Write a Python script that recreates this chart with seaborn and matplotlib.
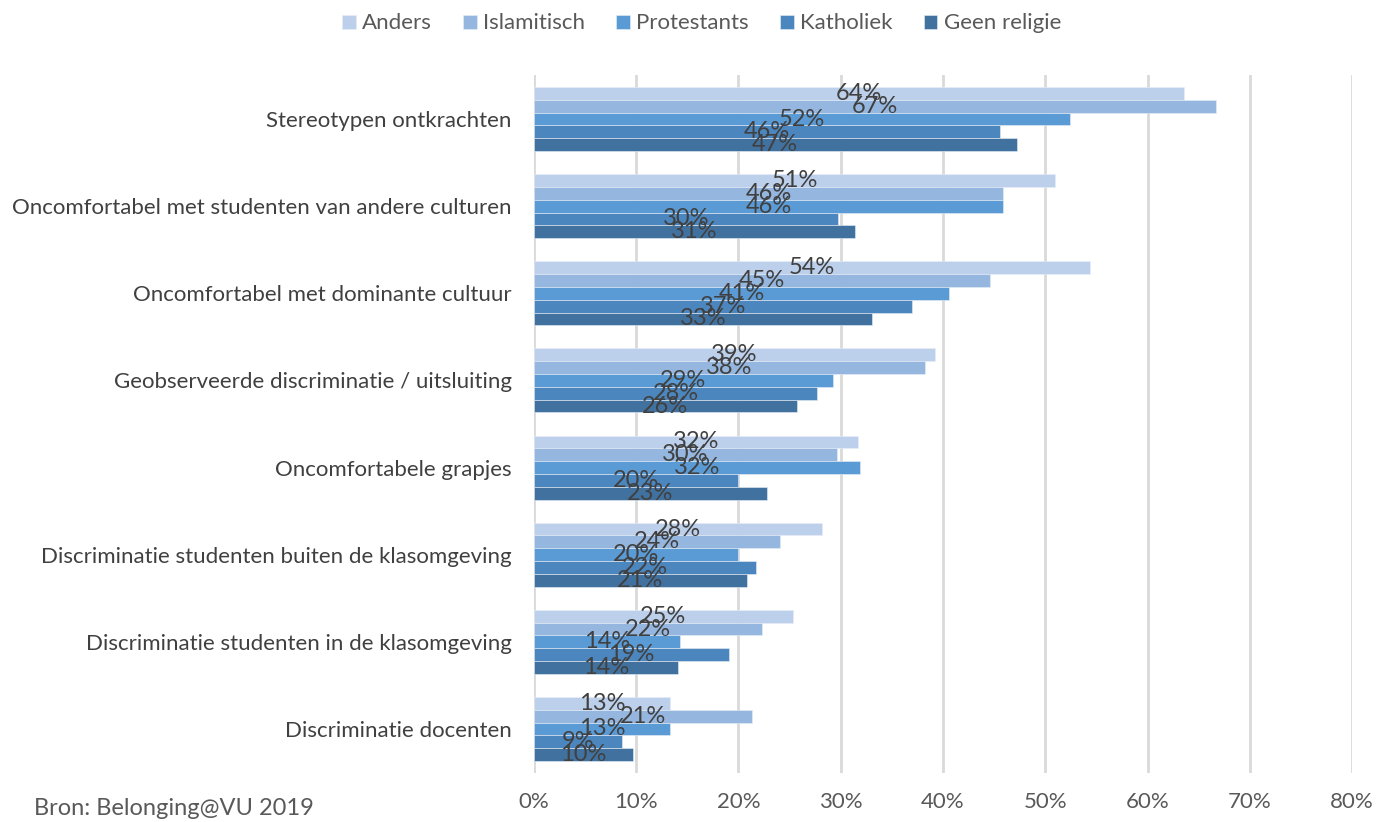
import numpy as np
import pandas as pd
import seaborn as sns
import matplotlib.pyplot as plt

categories = [
    "Stereotypen ontkrachten",
    "Oncomfortabel met studenten van andere culturen",
    "Oncomfortabel met dominante cultuur",
    "Geobserveerde discriminatie / uitsluiting",
    "Oncomfortabele grapjes",
    "Discriminatie studenten buiten de klasomgeving",
    "Discriminatie studenten in de klasomgeving",
    "Discriminatie docenten",
]
series = ["Anders", "Islamitisch", "Protestants", "Katholiek", "Geen religie"]

anders = [63.6, 51.0, 54.4, 39.2, 31.7, 28.2, 25.3, 13.3]
islamitisch = [66.7, 45.9, 44.6, 38.2, 29.6, 24.1, 22.3, 21.3]
protestants = [52.4, 45.9, 40.6, 29.2, 31.9, 20.0, 14.3, 13.3]
katholiek = [45.6, 29.7, 37.0, 27.7, 20.0, 21.7, 19.1, 8.6]
geen_religie = [47.2, 31.4, 33.1, 25.7, 22.8, 20.8, 14.1, 9.7]

colors = ["#BDD0EB", "#95B7DF", "#5B9BD5", "#4C86BE", "#41729F"]

values = [anders, islamitisch, protestants, katholiek, geen_religie]
df = pd.DataFrame(
    [(c, s, v) for s, vals in zip(series, values) for c, v in zip(categories, vals)],
    columns=["categorie", "religie", "pct"],
)

sns.set_style("white")
plt.rcParams["font.family"] = ["Lato", "DejaVu Sans"]

fig = plt.figure(figsize=(13.76, 8.22), dpi=100)
ax = fig.add_axes([0.388, 0.0602, 0.5946, 0.848])

sns.barplot(data=df, y="categorie", x="pct", hue="religie", order=categories,
            hue_order=series, palette=colors, orient="h", width=0.735,
            saturation=1, ax=ax, legend=True, errorbar=None,
            edgecolor="#E8EEF6", linewidth=0.4)

# labels centered in each bar, like the Excel original (they overlap there too)
for cont in ax.containers:
    labels = [f"{round(b.get_width()):.0f}%" for b in cont]
    ax.bar_label(cont, labels=labels, label_type="center", fontsize=17,
                 color="#404040")

ax.set_xlim(0, 80)
ax.set_xticks(np.arange(0, 81, 10))
ax.set_xticklabels([f"{t}%" for t in range(0, 81, 10)])
ax.tick_params(axis="x", labelsize=16, colors="#595959", length=0, pad=14)
ax.tick_params(axis="y", labelsize=16, colors="#404040", length=0, pad=16)
ax.xaxis.grid(True, color="#D9D9D9", linewidth=2)
ax.set_axisbelow(True)
for sp in ax.spines.values():
    sp.set_visible(False)
ax.set_xlabel("")
ax.set_ylabel("")

handles, labs = ax.get_legend_handles_labels()
ax.get_legend().remove()
fig.legend(handles, labs, loc="upper center", bbox_to_anchor=(0.51, 1.008),
           ncol=5, frameon=False, fontsize=16, handlelength=0.6,
           handleheight=0.6, handletextpad=0.3, columnspacing=1.4,
           labelcolor="#595959")

fig.text(0.025, 0.004, "Bron: Belonging@VU 2019", fontsize=17, color="#595959",
         va="bottom", ha="left")

fig.savefig("out.png", dpi=100)
